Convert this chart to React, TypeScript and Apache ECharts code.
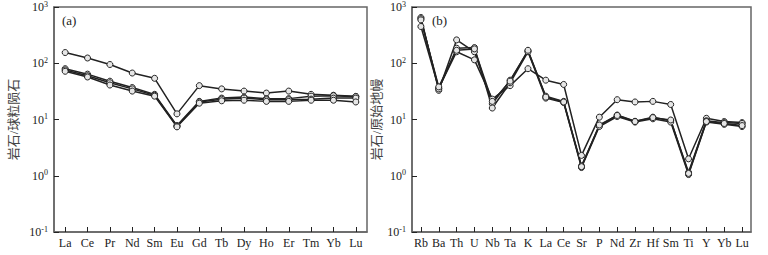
import React, { useEffect, useRef } from "react";
import * as echarts from "echarts";

const reeElements = ["La", "Ce", "Pr", "Nd", "Sm", "Eu", "Gd", "Tb", "Dy", "Ho", "Er", "Tm", "Yb", "Lu"];
const reeSample1 = [155, 124, 95, 67, 54, 12.6, 40, 35, 32, 29.5, 32, 28, 27, 25.8];
const reeSample2 = [80, 64, 48, 37, 28, 7.8, 21, 24, 25, 23.5, 23.5, 26, 26.5, 25.5];
const reeSample3 = [76, 60, 45, 35, 27, 7.6, 20.5, 23, 24, 22.5, 22.5, 23, 24, 24];
const reeSample4 = [72, 57, 41, 32, 26, 7.4, 19.5, 21.5, 22, 21, 21, 22, 22, 20.5];

const traceElements = ["Rb", "Ba", "Th", "U", "Nb", "Ta", "K", "La", "Ce", "Sr", "P", "Nd", "Zr", "Hf", "Sm", "Ti", "Y", "Yb", "Lu"];
const traceSample1 = [450, 36, 160, 115, 23, 40, 80, 50, 42, 2.3, 11, 22.5, 20.5, 21, 18.5, 2.0, 10.5, 9.2, 8.8];
const traceSample2 = [650, 33, 260, 160, 19, 50, 165, 26, 21, 1.5, 7.8, 12, 9.3, 11, 9.5, 1.15, 9.5, 8.8, 8.5];
const traceSample3 = [620, 35, 185, 190, 16, 45, 160, 24, 20, 1.4, 7.5, 11.3, 9, 10.3, 9, 1.05, 9, 8.2, 7.5];
const traceSample4 = [590, 38, 170, 180, 21, 48, 170, 25, 20.5, 1.45, 8, 11.8, 9.2, 10.8, 9.8, 1.1, 9.2, 8.5, 7.8];

const yTitleA = "岩石/球粒陨石";
const yTitleB = "岩石/原始地幔";

const FONT = '"Liberation Serif", "Noto Sans CJK SC", serif';

export default function App() {
  const ref = useRef<HTMLDivElement>(null);
  useEffect(() => {
    document.body.style.margin = "0";
    const chart = echarts.init(ref.current!, null, { renderer: "svg" });
    const yAxisBase = (gridIndex: number, name: string, nameGap: number) => ({
      type: "log",
      logBase: 10,
      gridIndex,
      min: 0.1,
      max: 1000,
      name,
      nameLocation: "middle",
      nameGap,
      nameTextStyle: { fontFamily: FONT, fontSize: 13, color: "#444" },
      axisLine: { show: true, lineStyle: { color: "#666", width: 1.5 } },
      axisTick: { show: true, inside: true, length: 5, lineStyle: { color: "#222", width: 1 } },
      minorTick: { show: false },
      splitLine: { show: false },
      axisLabel: {
        fontFamily: FONT,
        fontSize: 12,
        color: "#222",
        margin: 6,
        formatter: (v: number) => "10{s|" + Math.round(Math.log10(v)) + "}",
        rich: { s: { fontSize: 8, fontFamily: FONT, color: "#222", verticalAlign: "bottom", padding: [0, 0, 6, 0] } },
      },
    });
    const xAxisBase = (gridIndex: number, data: string[]) => ({
      type: "category",
      gridIndex,
      data,
      boundaryGap: true,
      axisLine: { show: true, lineStyle: { color: "#666", width: 1.5 } },
      axisTick: { show: true, inside: true, alignWithLabel: true, length: 5, lineStyle: { color: "#222", width: 1 } },
      axisLabel: { fontFamily: FONT, fontSize: 12, color: "#222", margin: 5, interval: 0 },
      splitLine: { show: false },
    });
    const line = (xi: number, data: number[]) => ({
      type: "line",
      xAxisIndex: xi,
      yAxisIndex: xi,
      data,
      symbol: "circle",
      symbolSize: 6,
      lineStyle: { color: "#222", width: 1.5 },
      itemStyle: { color: "#e6e6e6", borderColor: "#222", borderWidth: 1 },
      emphasis: { disabled: true },
    });
    chart.setOption({
      animation: false,
      grid: [
        { left: 54, top: 7, width: 313, height: 225, show: true, borderColor: "#666", borderWidth: 1.5, backgroundColor: "transparent" },
        { left: 412, top: 7, width: 339, height: 225, show: true, borderColor: "#666", borderWidth: 1.5, backgroundColor: "transparent" },
      ],
      xAxis: [xAxisBase(0, reeElements), xAxisBase(1, traceElements)],
      yAxis: [yAxisBase(0, yTitleA, 34), yAxisBase(1, yTitleB, 16)],
      series: [
        line(0, reeSample1),
        line(0, reeSample2),
        line(0, reeSample3),
        line(0, reeSample4),
        line(1, traceSample1),
        line(1, traceSample2),
        line(1, traceSample3),
        line(1, traceSample4),
      ],
      graphic: [
        { type: "text", left: 62, top: 14, style: { text: "(a)", fontFamily: FONT, fontSize: 13, fill: "#222" } },
        { type: "text", left: 432, top: 14, style: { text: "(b)", fontFamily: FONT, fontSize: 13, fill: "#222" } },
      ],
    });
    return () => chart.dispose();
  }, []);
  return <div ref={ref} style={{ width: 768, height: 255 }} />;
}
